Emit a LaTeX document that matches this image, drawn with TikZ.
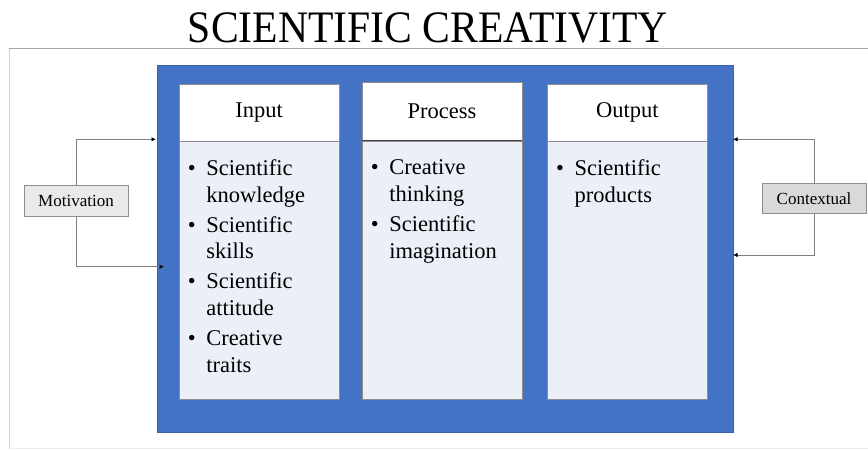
\documentclass[tikz,border=0pt]{standalone}
\usepackage{fontspec}
\setmainfont{Liberation Serif}
\usetikzlibrary{arrows.meta,positioning}

\definecolor{panelblue}{HTML}{4472C4}
\definecolor{bodyfill}{HTML}{EBEFF8}
\definecolor{boxline}{HTML}{8E8E8E}
\definecolor{motivfill}{HTML}{E9E9E9}
\definecolor{contextfill}{HTML}{D9D9D9}

% one bullet, two lines
\newcommand{\bitem}[2]{\makebox[18.5pt][l]{\textbullet}#1\\\hspace*{18.5pt}#2}

\tikzset{
  panel/.style={fill=panelblue, draw=panelblue!85!black, line width=0.6pt},
  headbox/.style={draw=boxline, fill=white, line width=0.8pt, anchor=north west,
    minimum width=160pt, minimum height=56.5pt, inner sep=0pt,
    font=\fontsize{22.5}{26.7}\selectfont},
  bodybox/.style={draw=boxline, fill=bodyfill, line width=0.8pt, anchor=north west,
    minimum width=160pt, minimum height=258.5pt, inner sep=0pt},
  list/.style={align=left, inner sep=0pt, anchor=north west,
    font=\fontsize{22.5}{26.7}\selectfont},
  factor/.style={draw=boxline, line width=0.9pt, minimum width=104pt,
    minimum height=30.5pt, inner sep=0pt, font=\fontsize{17}{20}\selectfont},
  feed/.style={draw=gray, line width=0.9pt, -{Latex[length=4.5pt,width=4.5pt,black]}},
}

\begin{document}
\begin{tikzpicture}[x=1pt,y=-1pt]
\useasboundingbox (0,0) rectangle (868,450);

% page frame
\draw[gray!15, line width=0.8pt] (9,448) -- (870,448);
\draw[gray!35, line width=1pt] (9,448) -- (9,48.3);
\draw[gray!70, line width=1pt] (9,48.3) -- (870,48.3);

\node[anchor=base, inner sep=0pt, font=\fontsize{45}{50}\selectfont] (title) at (427.8,42.7)
  {\scalebox{0.925}[1]{SCIENTIFIC CREATIVITY}};

% blue panel with the three columns
\node[panel, minimum width=576.6pt, minimum height=367pt, inner sep=0pt] (panel) at (445.3,248.5) {};

\node[headbox] (inhead) at (178.7,84) {Input};
\node[bodybox] (inbody) at (178.7,140.5) {};
\node[headbox, minimum height=59pt] (prochead) at (361.6,81.7) {Process};
\node[bodybox] (procbody) at (361.6,140.7) {};
\node[headbox] (outhead) at (546.9,84) {Output};
\node[bodybox] (outbody) at (546.9,140.5) {};
\draw[black!75, line width=0.8pt] (procbody.north west) -- (procbody.north east);

\node[list] (inlist) at ([shift={(9,19)}]inbody.north west)
  {\bitem{Scientific}{knowledge}\\[3.3pt]
   \bitem{Scientific}{skills}\\[3.3pt]
   \bitem{Scientific}{attitude}\\[3.3pt]
   \bitem{Creative}{traits}};
\node[list] (proclist) at ([shift={(9,19)}]procbody.north west)
  {\bitem{Creative}{thinking}\\[3.3pt]
   \bitem{Scientific}{imagination}};
\node[list] (outlist) at ([shift={(9,19)}]outbody.north west)
  {\bitem{Scientific}{products}};

% side factors
\node[factor, fill=motivfill] (motiv) at (76,201) {Motivation};
\node[factor, fill=contextfill] (context) at (814,198.5) {Contextual};

\coordinate (mtop) at (156,139.3);
\coordinate (mbot) at (164,266.7);
\coordinate (ctop) at (733,139.3);
\coordinate (cbot) at (733,255);

\draw[feed] (motiv.north) |- (mtop);
\draw[feed] (motiv.south) |- (mbot);
\draw[feed] (context.north) |- (ctop);
\draw[feed] (context.south) |- (cbot);
\end{tikzpicture}
\end{document}
